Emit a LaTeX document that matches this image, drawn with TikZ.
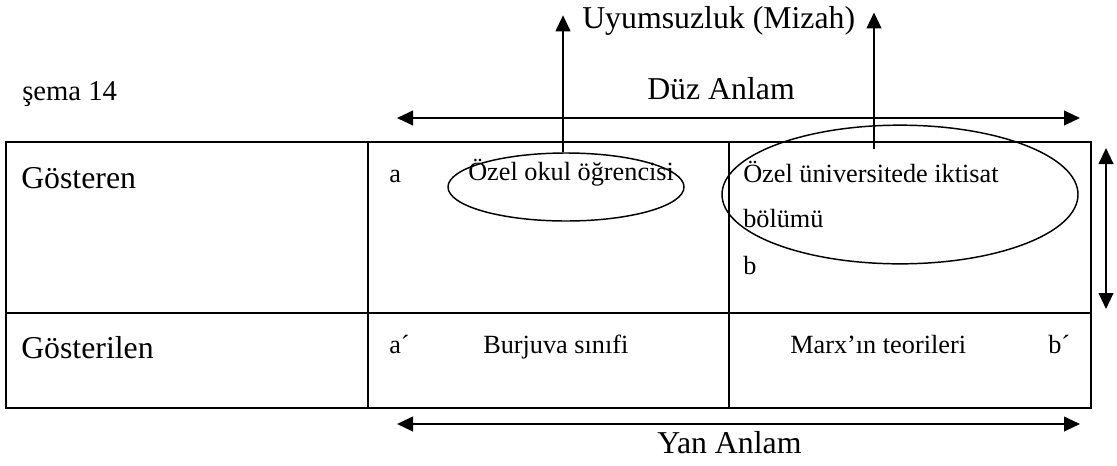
\documentclass[tikz,border=0pt]{standalone}
\usepackage{fontspec}
\setmainfont{Liberation Serif}
\usetikzlibrary{arrows.meta,shapes.geometric}

\begin{document}
\begin{tikzpicture}[x=0.75pt,y=-0.75pt,line cap=butt,
		>={Triangle[length=12pt,width=11pt]},
		bigtext/.style={inner sep=0pt,anchor=base west,font=\fontsize{23.85}{28}\selectfont},
		celltext/.style={inner sep=0pt,anchor=base west,font=\fontsize{19.7}{23}\selectfont},
		oval/.style={draw,ellipse,line width=1.1pt,inner sep=0pt}]
		\useasboundingbox (0,0) rectangle (1117,465);

		% the table
		\draw[line width=1.5pt] (6,142) rectangle (1091,408);
		\draw[line width=1.5pt] (6,313) -- (1091,313);
		\foreach \x in {368,729}
			\draw[line width=1.5pt] (\x,142) -- (\x,408);

		% titles
		\node[inner sep=0pt,anchor=base west,font=\fontsize{21.5}{25}\selectfont] (sema) at (22,100) {şema 14};
		\node[bigtext] (uyum) at (582,28) {Uyumsuzluk (Mizah)};
		\node[bigtext] (duz) at (647,99) {Düz Anlam};
		\node[bigtext] (yan) at (657,453) {Yan Anlam};

		% row headings
		\node[bigtext] (gosteren) at (21,188) {Gösteren};
		\node[bigtext] (gosterilen) at (21,358) {Gösterilen};

		% cell texts
		\foreach \name/\x/\y/\txt in {
		a/389/182/a,
		okul/468/180/Özel okul öğrencisi,
		ap/389/353/a´,
		burjuva/483/353/Burjuva sınıfi,
		univ/743/182/Özel üniversitede iktisat,
		bolum/743/227/bölümü,
		b/743/274/b,
		marx/790/353/Marx’ın teorileri,
		bp/1048/353/b´}
			\node[celltext] (\name) at (\x,\y) {\txt};

		% the two ovals
		\node[oval,minimum width=177pt,minimum height=51pt] (ovA) at (566,187) {};
		\node[oval,minimum width=267pt,minimum height=104pt] (ovB) at (900,194.5) {};

		% arrows
		\coordinate (duzL) at (397,118);
		\coordinate (duzR) at (1080,118);
		\coordinate (yanL) at (397,424);
		\coordinate (yanR) at (1080,424);
		\coordinate (vtop) at (1106,148);
		\coordinate (vbot) at (1106,309);
		\draw[<->,line width=1.5pt] (duzL) -- (duzR);
		\draw[<->,line width=1.5pt] (yanL) -- (yanR);
		\draw[<->,line width=1.5pt] (vtop) -- (vbot);

		% up to the humour label
		\draw[->,line width=1.5pt] ([xshift=-2.25pt]ovA.north) -- ++(0,-137);
		\draw[->,line width=1.5pt] ([xshift=-19.5pt,yshift=-18.75pt]ovB.north) -- ++(0,-137);
	\end{tikzpicture}
\end{document}
